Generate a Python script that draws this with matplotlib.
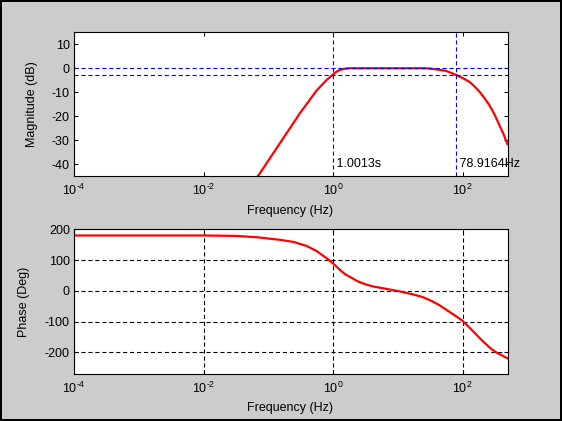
import matplotlib
matplotlib.use('Agg')
import matplotlib.pyplot as plt
from matplotlib.ticker import NullLocator, FixedLocator, FuncFormatter
import numpy as np

plt.rcParams['font.family'] = ['Liberation Sans', 'DejaVu Sans']
plt.rcParams['mathtext.fontset'] = 'custom'
plt.rcParams['mathtext.rm'] = 'Liberation Sans'
plt.rcParams['mathtext.it'] = 'Liberation Sans'
plt.rcParams['font.size'] = 9
plt.rcParams['axes.unicode_minus'] = False
plt.rcParams['lines.scale_dashes'] = False

# magnitude response
mag_freq = [0.0646, 0.0745, 0.170, 0.308, 0.555, 0.794, 0.891, 0.977, 1.12, 1.27,
            1.58, 1.81, 27.4, 39.8, 55.6, 79.1, 100, 126, 151, 181, 214, 257,
            309, 366, 427, 490]
mag_db = [-46, -43.75, -29.2, -18.75, -9.3, -4.9, -3.7, -2.8, -1.5, -0.7,
          -0.1, 0, 0, -0.5, -1.1, -2.8, -4.1, -5.6, -7.5, -9.75, -12.3, -15.3,
          -19.2, -23.6, -27.5, -31.7]

# phase response
ph_freq = [1e-4, 1e-2, 0.0316, 0.0692, 0.1, 0.151, 0.245, 0.389, 0.55, 0.794,
           1.0, 1.31, 1.51, 1.87, 2.34, 3.0, 3.98, 5.42, 7.24, 9.79, 13.2, 17.6,
           24.0, 31.8, 42.7, 57.5, 75.9, 97.9, 120, 147.6, 186, 237, 282, 338,
           407, 492]
ph_deg = [180, 180, 178.5, 174, 170, 166, 159, 146, 130, 106,
          89, 66, 55, 44, 32, 23, 15, 10, 5, 0, -6, -12,
          -20, -31, -45, -63, -80, -96, -114, -133, -155, -176, -190, -201,
          -210, -219]

f_low = 1.0013      # s
f_high = 78.9164    # Hz
ref_db = [0, -3]

mag_yticks = [-40, -30, -20, -10, 0, 10]
ph_yticks = [-200, -100, 0, 100, 200]
xticks = [1e-4, 1e-2, 1e0, 1e2]
xlim = (1e-4, 500)


def dec_label(v, pos):
    e = int(round(np.log10(v)))
    s = str(e).replace('-', r'\text{-}')
    return r'$\mathdefault{10^{%s}}$' % s


fig = plt.figure(figsize=(5.62, 4.21), dpi=100, facecolor='#cccccc',
                 edgecolor='black', linewidth=1.5)
ax1 = fig.add_axes([0.1317, 0.5819, 0.7722, 0.3413])
ax2 = fig.add_axes([0.1317, 0.1116, 0.7722, 0.3437])

for ax in (ax1, ax2):
    ax.set_xscale('log')
    ax.set_xlim(*xlim)
    ax.xaxis.set_major_locator(FixedLocator(xticks))
    ax.xaxis.set_major_formatter(FuncFormatter(dec_label))
    ax.xaxis.set_minor_locator(NullLocator())
    ax.tick_params(direction='in', length=3, width=0.75, top=True, right=True,
                   labelsize=9, colors='black')
    ax.tick_params(axis='x', pad=5)
    ax.tick_params(axis='y', pad=3)
    for s in ax.spines.values():
        s.set_linewidth(0.8)
    ax.set_xlabel('Frequency (Hz)')
    ax.xaxis.set_label_coords(0.498, -0.2)

# magnitude
ax1.plot(mag_freq, mag_db, color='red', lw=1.6)
for y in ref_db:
    ax1.axhline(y, color='blue', lw=0.8, dashes=(3, 2))
ax1.axvline(f_low, color='blue', lw=0.8, dashes=(3, 2))
ax1.axvline(f_high, color='blue', lw=0.8, dashes=(3, 2))
ax1.text(f_low, -40, ' %.4fs' % f_low, va='center', ha='left', fontsize=9)
ax1.text(f_high, -40, ' %.4fHz' % f_high, va='center', ha='left', fontsize=9,
         clip_on=False)
ax1.set_ylim(-45, 15)
ax1.set_yticks(mag_yticks)
ax1.set_ylabel('Magnitude (dB)')
ax1.yaxis.set_label_coords(-0.0836, 0.5)

# phase
ax2.plot(ph_freq, ph_deg, color='red', lw=1.6)
ax2.set_ylim(-270, 200)
ax2.set_yticks(ph_yticks)
ax2.grid(True, which='major', color='black', lw=0.8, linestyle=(0, (3, 2)))
ax2.set_ylabel('Phase (Deg)')
ax2.yaxis.set_label_coords(-0.101, 0.5)
ax2.xaxis.set_label_coords(0.498, -0.19)

fig.savefig('out.png', dpi=100, facecolor=fig.get_facecolor(),
            edgecolor=fig.get_edgecolor())
